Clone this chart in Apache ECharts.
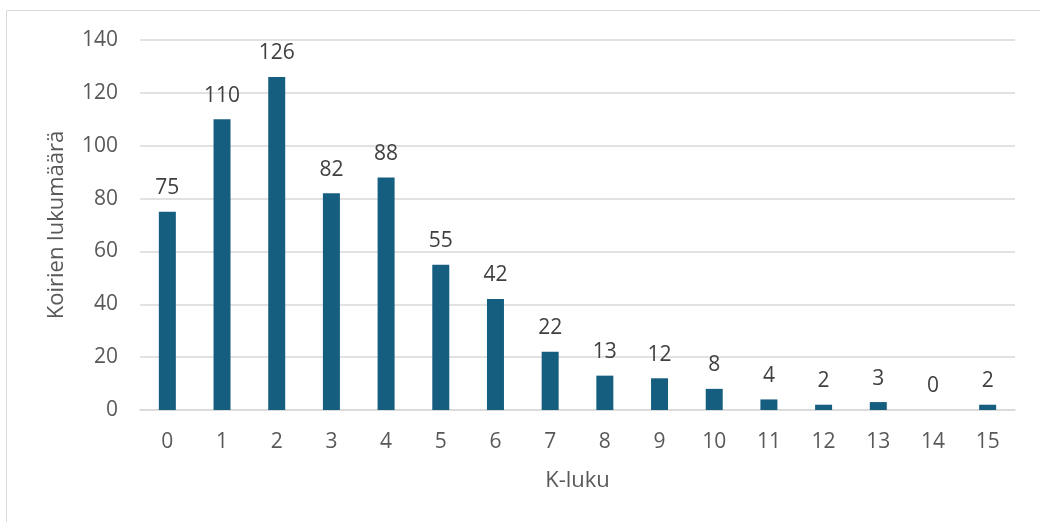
<!DOCTYPE html>
<html>
<head>
<meta charset="utf-8">
<script src="https://cdn.jsdelivr.net/npm/echarts@6/dist/echarts.min.js"></script>
<style>
  html, body { margin: 0; padding: 0; background: #fff; }
  #chart { width: 1040px; height: 522px; }
</style>
</head>
<body>
<div id="chart"></div>
<script>
// K-luku -> koirien lukumäärä
const categories = ['0', '1', '2', '3', '4', '5', '6', '7', '8', '9', '10', '11', '12', '13', '14', '15']
const counts = [75, 110, 126, 82, 88, 55, 42, 22, 13, 12, 8, 4, 2, 3, 0, 2]

const textColor = '#595959'
const fontFamily = '"Open Sans", "Noto Sans", sans-serif'

let myChart = echarts.init(document.getElementById('chart'))
myChart.setOption({
    animation: false,
    textStyle: { fontFamily: fontFamily },
    graphic: [
        {
            // chart frame (only top and left edge visible)
            type: 'rect',
            shape: { x: 6.5, y: 10.5, width: 1200, height: 600 },
            style: { fill: 'none', stroke: '#d9d9d9', lineWidth: 1 },
            silent: true
        }
    ],
    grid: {
        left: 140,
        right: 25,
        top: 40,
        bottom: 112
    },
    xAxis: {
        type: 'category',
        data: categories,
        name: 'K-luku',
        nameLocation: 'middle',
        nameGap: 60,
        nameTextStyle: { color: textColor, fontSize: 22, fontFamily: fontFamily },
        axisLine: { show: true, lineStyle: { color: '#d9d9d9', width: 1.5 } },
        axisTick: { show: false },
        axisLabel: { color: textColor, fontSize: 21, margin: 22, fontFamily: fontFamily }
    },
    yAxis: {
        type: 'value',
        min: 0,
        max: 140,
        interval: 20,
        name: 'Koirien lukumäärä',
        nameLocation: 'middle',
        nameGap: 72,
        nameTextStyle: { color: textColor, fontSize: 22, fontFamily: fontFamily },
        axisLine: { show: false },
        axisTick: { show: false },
        axisLabel: { color: textColor, fontSize: 21, margin: 22, fontFamily: fontFamily },
        splitLine: { lineStyle: { color: '#d9d9d9', width: 1.5 } }
    },
    series: [
        {
            name: 'Koirien lukumäärä',
            type: 'bar',
            data: counts,
            barWidth: 17,
            itemStyle: { color: '#165e80' },
            label: {
                show: true,
                position: 'top',
                distance: 13,
                color: '#404040',
                fontSize: 21,
                fontFamily: fontFamily
            }
        }
    ]
})
window.addEventListener('resize', function() {
    myChart.resize()
})
</script>
</body>
</html>
